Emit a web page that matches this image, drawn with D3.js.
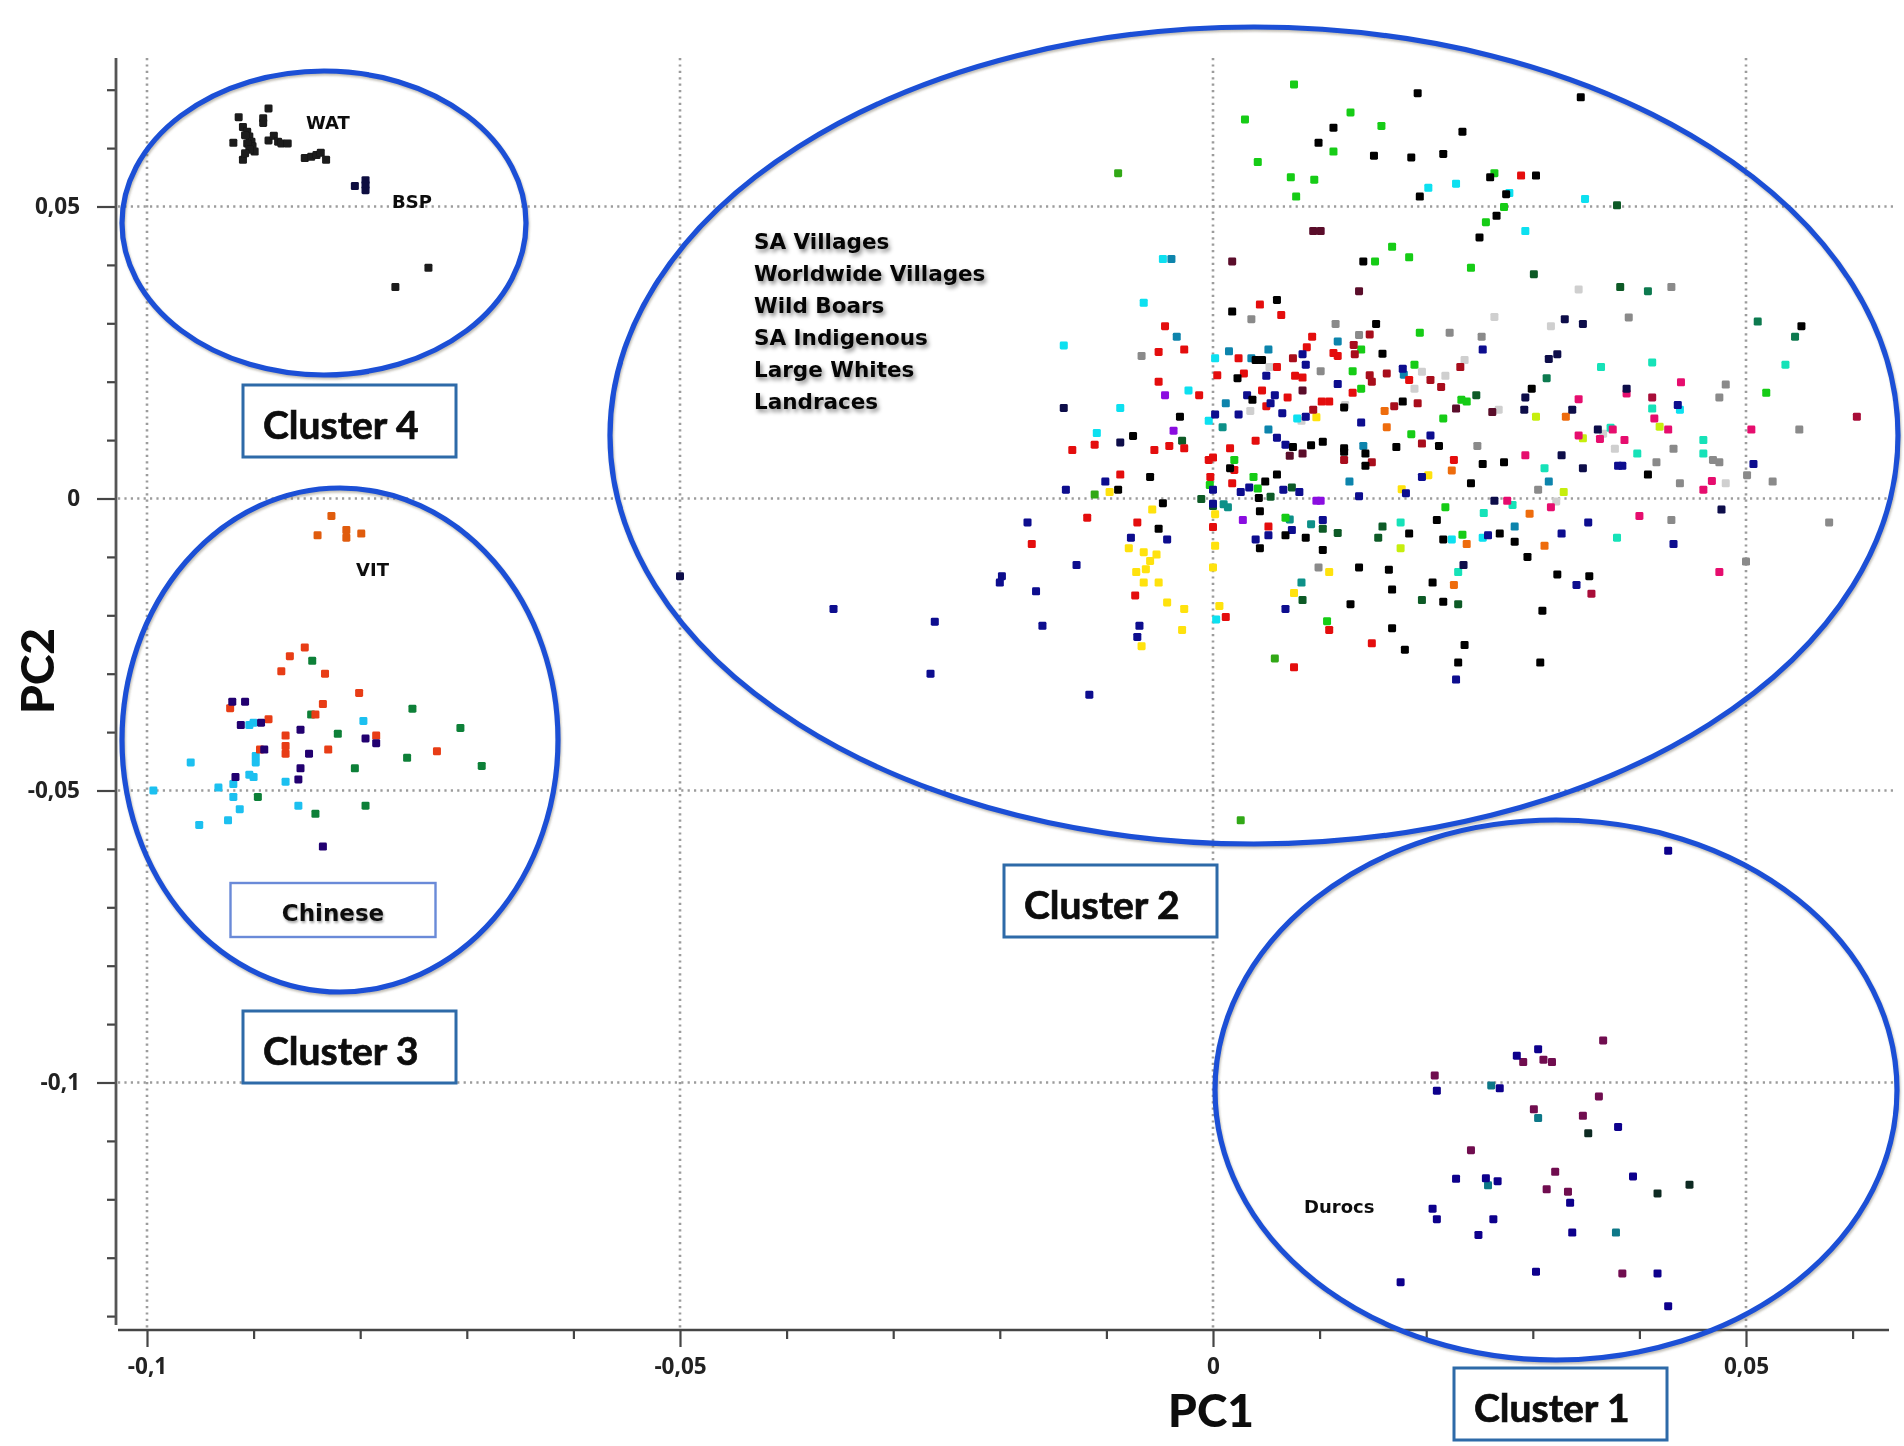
<!DOCTYPE html>
<html><head><meta charset="utf-8">
<script src="https://cdn.jsdelivr.net/npm/d3@7/dist/d3.min.js"></script>
<style>
html,body{margin:0;padding:0;background:#fff}
svg{display:block}
.tick-label{font-family:"Open Sans",sans-serif;font-weight:700;font-size:22.5px;fill:#222}
.cl{font-family:Lato,"Open Sans",sans-serif;font-weight:700;font-size:39px;fill:#0a0a0a;stroke:#0a0a0a;stroke-width:.7px}
.ax{font-family:Lato,"Open Sans",sans-serif;font-weight:900;font-size:46px;fill:#0a0a0a}
.sm{font-family:"DejaVu Sans",sans-serif;font-weight:700;font-size:18px;fill:#111}
.grp{font-family:"DejaVu Sans",sans-serif;font-weight:700;font-size:21.5px;fill:#050505;filter:drop-shadow(2px 3px 2px rgba(0,0,0,.45))}
</style></head><body><div id="c"></div>
<script>
// All point values are PC1, PC2 in thousandths.
const green=[[7.6,70.9],[3.0,64.9],[12.9,66.1],[15.8,63.8],[11.3,59.4],[4.2,57.6],[7.3,55.0],[9.5,54.6],[7.8,51.7],[16.8,43.1],[18.4,41.3],[15.2,40.6],[24.2,39.5],[25.6,47.3],[26.4,55.7],[27.3,49.9],[19.4,28.4],[13.9,25.5],[13.1,21.8],[13.9,18.8],[18.9,22.9],[23.3,16.9],[23.8,16.6],[21.6,13.7],[18.6,11.0],[51.9,18.1],[2.0,6.6],[3.8,3.7],[4.2,1.7],[-0.3,2.3],[6.8,-3.3],[10.7,-21.0],[21.8,-1.5],[23.4,-6.2]];
const oliveGreen=[[-8.9,55.7],[-11.1,0.7],[5.8,-27.4],[2.6,-55.1]];
const black=[[19.2,69.4],[11.3,63.5],[9.9,60.9],[15.1,58.7],[18.6,58.4],[21.6,59.0],[23.4,62.8],[26.0,55.0],[19.4,51.7],[26.6,48.4],[25.0,44.7],[14.1,40.6],[6.0,34.0],[1.8,32.0],[15.3,29.9],[15.9,24.8],[4.0,23.7],[4.6,23.7],[2.3,20.6],[-3.1,14.0],[-7.5,10.7],[17.8,16.6],[12.3,15.6],[3.7,16.9],[21.2,9.0],[17.2,8.8],[12.3,8.6],[7.5,8.8],[9.2,9.1],[10.3,9.7],[34.5,68.7],[30.3,55.3],[27.5,52.1],[55.2,29.5],[29.9,18.8],[14.3,7.7],[12.3,8.0],[14.3,5.6],[25.3,5.9],[-5.9,3.7],[-8.9,1.5],[6.0,4.1],[4.9,2.9],[1.6,5.2],[4.3,0.1],[-4.7,-0.8],[4.4,-2.2],[24.2,2.6],[21.0,-3.7],[-5.1,-5.2],[6.8,-6.3],[8.7,-6.7],[18.4,-6.0],[21.6,-7.0],[10.3,-8.8],[4.4,-8.5],[13.7,-11.8],[16.5,-12.2],[16.8,-15.6],[20.6,-14.4],[12.9,-18.1],[21.6,-17.7],[16.8,-22.2],[18.0,-25.9],[23.6,-25.1],[23.0,-28.1],[27.3,6.2],[40.8,4.1],[26.9,-6.0],[28.3,-7.4],[29.5,-10.0],[35.3,-13.3],[32.3,-13.0],[30.9,-19.2],[30.7,-28.1]];
const nearBlackNavy=[[33.0,30.7],[34.7,29.9],[31.5,23.9],[32.3,24.7],[29.3,17.3],[29.2,15.2],[33.7,15.2],[38.8,18.8],[36.1,11.8],[32.7,7.4],[34.7,5.2],[26.4,-0.4],[47.7,-1.9],[23.5,-11.4],[-14.0,15.5],[-8.7,9.6],[-50.0,-13.3]];
const darkGreen=[[30.1,38.4],[38.2,36.2],[37.9,50.2],[24.7,17.7],[-1.1,-0.1],[-2.9,9.9],[5.4,0.3],[7.4,1.9],[10.3,-5.2],[11.7,-5.9],[15.9,-4.8],[15.5,-6.7],[8.4,-17.4],[19.6,-17.4],[23.0,-18.1],[0,-1.3]];
const seaGreen=[[51.1,30.3],[54.6,27.7],[40.8,35.5],[31.3,20.6]];
const red=[[4.4,33.2],[6.4,31.4],[9.3,27.7],[8.8,25.9],[11.3,24.9],[11.7,24.4],[2.4,24.0],[6.0,22.5],[2.9,21.4],[0.4,21.1],[7.7,21.0],[8.4,20.7],[4.6,18.5],[7.0,17.3],[10.2,16.6],[10.9,16.6],[13.1,18.1],[18.4,20.3],[5.0,15.8],[-4.5,29.5],[-5.1,25.1],[-2.7,25.5],[-5.1,20.0],[-1.3,17.7],[4.0,9.9],[-11.1,9.2],[-4.1,9.0],[-2.7,8.6],[-13.2,8.3],[-5.5,8.3],[1.6,8.6],[28.9,55.3],[-0.4,6.6],[0.0,7.0],[2.0,4.9],[-0.25,3.7],[1.8,2.6],[-8.7,4.1],[-11.8,-3.3],[-7.1,-4.1],[-17.0,-7.8],[0,-4.9],[5.2,-4.8],[-7.3,-16.6],[1.2,-20.3],[10.9,-22.5],[14.9,-24.8],[7.6,-28.9],[22.6,6.6]];
const darkRed=[[13.2,26.3],[13.3,24.7],[14.7,28.1],[7.5,24.0],[14.7,21.1],[14.9,20.0],[16.3,21.4],[20.4,20.3],[21.4,19.1],[19.2,16.3],[17.0,15.8],[9.4,15.2],[19.6,9.4],[23.2,22.5],[12.3,6.6],[14.9,6.2]];
const maroon=[[9.4,45.8],[10.1,45.8],[1.8,40.6],[13.7,35.5],[8.4,18.5],[22.8,15.4],[26.2,14.8],[8.4,7.7],[7.2,7.3]];
const blue=[[3.2,17.7],[5.0,21.0],[5.8,17.7],[5.4,16.3],[6.5,14.6],[2.4,14.4],[0.2,14.4],[8.7,14.0],[6.0,10.4],[6.8,9.2],[13.9,13.0],[11.7,19.6],[8.4,24.7],[8.7,22.9],[25.3,25.5],[17.8,22.2],[20.4,10.8],[-13.8,1.5],[-10.1,2.9],[-17.4,-4.1],[-12.8,-11.4],[-16.6,-15.9],[-19.8,-13.3],[-20.0,-14.4],[-16.0,-21.8],[-7.7,-6.7],[-4.3,-7.0],[-6.9,-21.8],[-7.1,-23.7],[-11.6,-33.6],[0,1.5],[0,-0.9],[2.6,1.1],[3.4,1.9],[6.6,1.5],[8.1,1.1],[13.7,0.4],[18.1,0.9],[19.6,3.7],[4.0,-7.0],[5.2,-6.3],[7.4,-5.4],[10.3,-3.7],[6.8,-18.9],[22.8,-31.0],[25.8,-6.3],[38.0,5.6],[38.4,5.6],[50.7,5.9],[35.2,-4.1],[32.7,-6.0],[34.1,-14.8],[43.2,-7.8],[43.6,16.0],[-35.6,-18.9],[-26.1,-21.1],[-26.5,-30.0]];
const skyTeal=[[-3.4,27.7],[5.2,25.5],[1.5,25.2],[3.6,24.0],[11.7,26.9],[1.2,16.3],[5.2,11.8],[-3.9,41.0],[12.8,2.9],[14.1,9.0],[31.5,2.9],[28.3,-4.8],[17.9,21.2]];
const cyan=[[-4.7,41.0],[-6.5,33.5],[-14.0,26.2],[0.2,24.0],[-2.3,18.5],[-8.7,15.5],[-10.9,11.2],[-0.4,13.3],[7.9,13.7],[20.2,53.2],[22.8,53.9],[27.8,52.3],[29.3,45.8],[34.9,51.3],[0.3,-20.7],[43.8,15.2],[22.4,-7.0],[25.3,-6.7]];
const turquoise=[[53.7,22.9],[36.4,22.5],[41.2,23.3],[41.2,15.4],[46.0,10.0],[46.0,7.7],[39.8,7.7],[31.1,5.2],[28.1,-1.1],[25.4,-2.5],[37.9,-6.7],[23.0,-12.6],[37.3,12.1],[17.6,-4.1]];
const deepTeal=[[1.0,-1.0],[1.4,-1.5],[7.2,-3.6],[9.2,-4.4],[8.3,-14.4],[0.9,12.2]];
const yellow=[[0.2,-2.7],[0.2,-8.1],[0,-11.8],[0.6,-18.4],[-5.7,-1.9],[-9.7,1.1],[-7.9,-8.5],[-6.5,-9.2],[-5.3,-9.6],[-5.9,-10.7],[-6.3,-12.1],[-7.2,-12.6],[-6.5,-14.4],[-5.1,-14.4],[-4.3,-17.8],[-2.7,-18.9],[-2.9,-22.5],[-6.7,-25.3],[7.6,-16.2],[10.9,-12.6],[20.2,4.0],[17.7,1.6],[9.7,13.9]];
const yellowGreen=[[17.6,-8.5],[32.9,1.1],[30.3,14.0],[34.7,10.3],[41.9,12.3]];
const orange=[[16.1,15.0],[16.3,12.2],[22.4,4.8],[23.8,-7.8],[22.6,-14.8],[29.7,-2.6],[31.1,-8.1],[33.1,14.0]];
const purple=[[-4.5,17.7],[-3.7,11.6],[2.8,-3.7],[9.7,-0.4],[10.1,-0.4]];
const pink=[[43.9,19.9],[34.3,17.0],[38.8,18.0],[41.4,13.7],[42.7,11.8],[37.5,11.8],[34.3,10.8],[36.3,10.2],[38.6,10.0],[50.5,11.8],[29.3,7.4],[46.8,3.0],[46.0,1.5],[27.6,-0.4],[31.7,-1.5],[40.0,-3.0],[47.5,-12.6]];
const crimson=[[41.2,17.3],[60.4,14.0],[35.5,-16.3]];
const lightGrey=[[34.3,35.8],[26.4,31.1],[31.7,29.5],[26.8,15.2],[23.6,23.7],[18.9,18.8],[21.8,21.0],[19.6,21.7],[12.4,16.0],[3.5,15.0],[8.3,13.3],[5.3,22.5],[37.7,8.5],[48.1,2.6],[32.2,-0.5],[36.6,11.1]];
const grey=[[43.0,36.2],[39.0,31.0],[48.1,19.5],[47.5,17.3],[3.6,30.7],[-6.7,24.4],[11.5,29.9],[13.7,28.0],[10.1,21.8],[22.2,28.4],[25.2,27.7],[55.0,11.8],[24.8,9.0],[43.2,8.5],[41.6,6.2],[46.9,6.6],[47.5,6.2],[50.1,4.0],[52.5,2.9],[43.8,2.6],[30.5,1.5],[43.0,-3.7],[57.8,-4.1],[50.0,-10.8],[9.9,-11.8]];
// Cluster 4
const watBlack=[[-88.6,66.8],[-89.1,65.1],[-89.1,64.3],[-91.4,65.3],[-91.0,63.6],[-90.6,62.8],[-90.4,62.0],[-90.2,61.1],[-90.1,60.3],[-89.9,59.4],[-90.8,62.2],[-90.6,60.8],[-90.4,59.7],[-91.9,60.9],[-91.0,58.0],[-90.8,59.1],[-88.6,61.3],[-88.1,62.1],[-87.7,61.1],[-87.4,60.8],[-86.8,60.8],[-85.2,58.3],[-84.6,58.5],[-84.1,58.8],[-83.7,59.2],[-83.2,58.0],[-73.6,39.5],[-76.7,36.2]];
const bspNavy=[[-80.5,53.5],[-79.5,54.5],[-79.5,53.7],[-79.5,52.8]];
// Cluster 3
const vitOrange=[[-82.7,-3.0],[-84.0,-6.3],[-81.3,-5.4],[-81.3,-6.7],[-79.9,-6.0]];
const chineseRed=[[-85.2,-25.5],[-86.6,-27.0],[-87.4,-29.6],[-83.3,-30.0],[-80.1,-33.3],[-83.5,-35.2],[-92.2,-35.9],[-88.6,-37.8],[-84.2,-37.0],[-87.0,-40.6],[-87.0,-42.4],[-87.0,-43.7],[-89.4,-43.0],[-83.0,-43.0],[-78.5,-40.6],[-72.8,-43.3]];
const chineseGreen=[[-84.5,-27.8],[-84.6,-37.0],[-82.1,-40.3],[-75.1,-36.0],[-70.6,-39.3],[-75.6,-44.4],[-68.6,-45.8],[-80.5,-46.2],[-89.6,-51.1],[-79.5,-52.6],[-84.2,-54.0]];
const chineseNavy=[[-92.0,-34.8],[-90.8,-34.8],[-91.2,-38.8],[-89.3,-38.4],[-85.6,-39.6],[-79.5,-41.1],[-78.5,-41.9],[-89.0,-43.0],[-84.8,-43.7],[-85.6,-46.2],[-85.8,-48.1],[-91.7,-47.7],[-83.5,-59.6]];
const chineseCyan=[[-79.7,-38.1],[-90.4,-38.8],[-90.0,-38.4],[-95.9,-45.2],[-89.8,-44.1],[-89.8,-45.2],[-90.4,-47.3],[-90.0,-47.7],[-87.0,-48.5],[-91.9,-48.9],[-99.4,-50.0],[-93.3,-49.5],[-91.9,-51.1],[-91.3,-53.2],[-92.4,-55.1],[-95.1,-55.9],[-85.8,-52.6]];
// Cluster 1
const durocNavy=[[42.7,-60.3],[28.5,-95.4],[30.5,-94.3],[21.0,-101.4],[26.9,-101.0],[38.0,-107.6],[22.8,-116.5],[25.6,-116.4],[26.7,-116.9],[39.4,-116.1],[33.5,-120.6],[20.6,-121.6],[21.0,-123.4],[26.3,-123.4],[24.9,-126.1],[33.7,-125.7],[30.3,-132.4],[41.7,-132.7],[17.6,-134.2],[42.7,-138.3]];
const durocMaroon=[[36.6,-92.8],[29.1,-96.5],[31.0,-96.1],[31.8,-96.5],[20.8,-98.8],[36.2,-102.4],[30.1,-104.6],[34.7,-105.7],[24.2,-111.6],[32.1,-115.3],[31.3,-118.3],[33.3,-118.7],[38.4,-132.7]];
const durocTeal=[[26.1,-100.5],[30.5,-106.1],[25.8,-117.6],[37.8,-125.7]];
const durocGreen=[[35.2,-108.7],[41.7,-119.0],[44.7,-117.5]];

const seriesDraw=[
 [lightGrey,"#cfcfcf"],[grey,"#8a8a8a"],[yellow,"#ffe208"],[yellowGreen,"#c6ee10"],[orange,"#ee6c10"],
 [turquoise,"#12e2b8"],[cyan,"#08e0f0"],[skyTeal,"#0b84ac"],[deepTeal,"#0a9088"],[seaGreen,"#0a7a50"],
 [green,"#14cc14"],[oliveGreen,"#30a818"],[darkGreen,"#0a5a28"],[purple,"#8a10e0"],[pink,"#e6106e"],[crimson,"#a80a38"],
 [red,"#e41010"],[darkRed,"#a8101c"],[maroon,"#5a0a2a"],[blue,"#08088e"],[nearBlackNavy,"#0a0a48"],[black,"#050505"],
 [watBlack,"#1a1a1a"],[bspNavy,"#0c0c40"],
 [vitOrange,"#e05c10"],[chineseGreen,"#108038"],[chineseCyan,"#1cc0f0"],[chineseRed,"#e83c14"],[chineseNavy,"#200070"],
 [durocGreen,"#102c20"],[durocTeal,"#107888"],[durocMaroon,"#700a50"],[durocNavy,"#10008c"]
];
const gridX=[-0.1,-0.05,0,0.05], gridY=[0.05,0,-0.05,-0.1];
const xMajor=[-0.1,-0.05,0,0.05], xMajorLabels=["-0,1","-0,05","0","0,05"];
const yMajor=[0.05,0,-0.05,-0.1], yMajorLabels=["0,05","0","-0,05","-0,1"];
const xMinor=[-0.09,-0.08,-0.07,-0.06,-0.04,-0.03,-0.02,-0.01,0.01,0.02,0.03,0.04,0.06];
const yMinor=[0.07,0.06,0.04,0.03,0.02,0.01,-0.01,-0.02,-0.03,-0.04,-0.06,-0.07,-0.08,-0.09,-0.11,-0.12,-0.13,-0.14];

const W=1904,H=1446;
const x=d3.scaleLinear().domain([-0.1,0.05]).range([147,1746]);
const y=d3.scaleLinear().domain([-0.1,0.05]).range([1082.5,206.5]);
const svg=d3.select("#c").append("svg").attr("width",W).attr("height",H);
const defs=svg.append("defs");
const blur=defs.append("filter").attr("id","soft").attr("x","-5%").attr("y","-5%").attr("width","110%").attr("height","110%");
blur.append("feGaussianBlur").attr("stdDeviation",0.7);
const chart=svg.append("g").attr("filter","url(#soft)");

// grid
chart.append("g").selectAll("line").data(gridX).join("line")
 .attr("x1",d=>x(d)).attr("x2",d=>x(d)).attr("y1",58).attr("y2",1329)
 .attr("stroke","#9c9c9c").attr("stroke-width",2.6).attr("stroke-dasharray","2.2 4.2");
chart.append("g").selectAll("line").data(gridY).join("line")
 .attr("y1",d=>y(d)).attr("y2",d=>y(d)).attr("x1",118).attr("x2",1894)
 .attr("stroke","#9c9c9c").attr("stroke-width",2.6).attr("stroke-dasharray","2.2 4.2");

// axes
const axisY=1330, axisX=116;
const xAxisMajor=d3.axisBottom(x).tickValues(xMajor).tickSize(17).tickFormat((d,i)=>xMajorLabels[i]).tickPadding(11);
const xAxisMinor=d3.axisBottom(x).tickValues(xMinor).tickSize(9).tickFormat("");
const yAxisMajor=d3.axisLeft(y).tickValues(yMajor).tickSize(19).tickFormat((d,i)=>yMajorLabels[i]).tickPadding(17);
const yAxisMinor=d3.axisLeft(y).tickValues(yMinor).tickSize(9).tickFormat("");
function style(g){g.selectAll("path").remove();g.selectAll("line").attr("stroke","#444").attr("stroke-width",2.2);
 g.selectAll("text").attr("class","tick-label").attr("font-family",null).attr("font-size",null);}
chart.append("g").attr("transform",`translate(0,${axisY})`).call(xAxisMajor).call(style);
chart.append("g").attr("transform",`translate(0,${axisY})`).call(xAxisMinor).call(style);
chart.append("g").attr("transform",`translate(${axisX},0)`).call(yAxisMajor).call(style);
chart.append("g").attr("transform",`translate(${axisX},0)`).call(yAxisMinor).call(style);
chart.append("line").attr("x1",118).attr("x2",1889).attr("y1",axisY).attr("y2",axisY).attr("stroke","#444").attr("stroke-width",2.4);
chart.append("line").attr("x1",axisX).attr("x2",axisX).attr("y1",58).attr("y2",1325).attr("stroke","#555").attr("stroke-width",2.8);

// points
const size=8;
seriesDraw.forEach(([pts,col])=>{
 chart.append("g").selectAll("rect").data(pts).join("rect")
  .attr("x",d=>x(d[0]/1000)-size/2).attr("y",d=>y(d[1]/1000)-size/2)
  .attr("width",size).attr("height",size).attr("rx",1.4).attr("fill",col);
});

// ellipses
const ellipses=[[324,223,202,152],[340,740,218,252],[1254,435.5,644,408.5],[1556,1090,341,270]];
chart.append("g").style("filter","drop-shadow(1px 2px 1px rgba(120,110,90,.45))").selectAll("ellipse").data(ellipses).join("ellipse")
 .attr("cx",d=>d[0]).attr("cy",d=>d[1]).attr("rx",d=>d[2]).attr("ry",d=>d[3])
 .attr("fill","none").attr("stroke","#1a50d6").attr("stroke-width",5.2);

// boxes
const boxes=[
 [243,385,213,72,"Cluster 4","#2f6aa8"],[243,1011,213,72,"Cluster 3","#2f6aa8"],
 [1004,865,213,72,"Cluster 2","#2f6aa8"],[1454,1368,213,72,"Cluster 1","#2f6aa8"]];
boxes.forEach(b=>{
 chart.append("rect").attr("x",b[0]).attr("y",b[1]).attr("width",b[2]).attr("height",b[3]).attr("fill","#fff").attr("stroke",b[5]).attr("stroke-width",3);
 chart.append("text").attr("class","cl").attr("x",b[0]+20).attr("y",b[1]+54).text(b[4]);
});
chart.append("rect").attr("x",230.5).attr("y",883).attr("width",205).attr("height",54).attr("fill","#fff").attr("stroke","#6a8ad8").attr("stroke-width",2.4);
chart.append("text").attr("class","sm").attr("x",333).attr("y",921).attr("text-anchor","middle").style("font-size","23px").style("filter","drop-shadow(1px 2px 1px rgba(0,0,0,.35))").text("Chinese");

// labels
const smallLabels=[["WAT",306,129],["BSP",392,208],["VIT",356,576],["Durocs",1304,1213]];
chart.selectAll("text.s").data(smallLabels).join("text").attr("class","sm").attr("x",d=>d[1]).attr("y",d=>d[2]).text(d=>d[0]);
const groupNames=["SA Villages","Worldwide Villages","Wild Boars","SA Indigenous","Large Whites","Landraces"];
svg.append("g").selectAll("text").data(groupNames).join("text").attr("class","grp")
 .attr("x",754).attr("y",(d,i)=>249+i*32).text(d=>d);
chart.append("text").attr("class","ax").attr("x",1211).attr("y",1427).attr("text-anchor","middle").text("PC1");
chart.append("text").attr("class","ax").attr("transform","translate(54,671) rotate(-90)").attr("text-anchor","middle").text("PC2");
</script></body></html>
